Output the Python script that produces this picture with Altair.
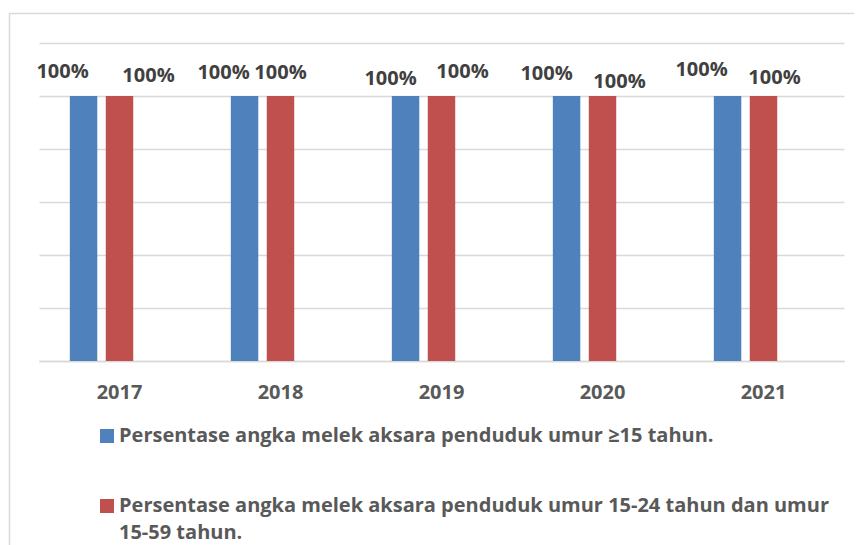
import altair as alt
import pandas as pd

# ---- data ----
years = ["2017", "2018", "2019", "2020", "2021"]
series = [
    "Persentase angka melek aksara penduduk umur ≥15 tahun.",
    "Persentase angka melek aksara penduduk umur 15-24 tahun dan umur 15-59 tahun.",
]
values_umur_15_plus = [1.00, 1.00, 1.00, 1.00, 1.00]
values_umur_15_24_15_59 = [1.00, 1.00, 1.00, 1.00, 1.00]
legend_second_lines = [
    "Persentase angka melek aksara penduduk umur 15-24 tahun dan umur",
    "15-59 tahun.",
]
y_tick_values = [0.0, 0.2, 0.4, 0.6, 0.8, 1.0, 1.2]
colors = ["#4F81BD", "#C0504D"]
# the original chart reserves a third (empty) bar slot in every group
slots = series + ["(kosong)"]

# manual data-label nudges (dx, dy) as placed in the original, per series/year
label_nudge_blue = [(-21, -18), (-21, -17), (-15, -11), (-20, -16), (-26, -20)]
label_nudge_red = [(29, -14), (0, -17), (21, -18), (17, -8), (11, -12)]

rows = []
for yr, v in zip(years, values_umur_15_plus):
    rows.append({"year": yr, "series": series[0], "value": v})
for yr, v in zip(years, values_umur_15_24_15_59):
    rows.append({"year": yr, "series": series[1], "value": v})
df = pd.DataFrame(rows)

FONT = "Open Sans"

x_enc = alt.X(
    "year:N",
    sort=years,
    scale=alt.Scale(paddingInner=0.383, paddingOuter=0.1915),
    axis=alt.Axis(
        title=None, labelAngle=0, ticks=False, domainColor="#D9D9D9", domainWidth=1.5,
        labelFont=FONT, labelFontSize=20, labelFontWeight="bold", labelColor="#595959",
        labelPadding=21,
    ),
)
xoff_enc = alt.XOffset(
    "series:N", scale=alt.Scale(domain=slots, paddingInner=0.236, paddingOuter=0)
)
y_enc = alt.Y(
    "value:Q",
    scale=alt.Scale(domain=[0, 1.2], nice=False, zero=True),
    axis=alt.Axis(
        title=None, values=y_tick_values, labels=False, ticks=False, domain=False,
        grid=True, gridColor="#D9D9D9", gridWidth=1.5,
    ),
)

# second legend entry wraps onto two lines, as in the original
label_expr = (
    "datum.value == '" + series[1] + "' ? ['"
    + legend_second_lines[0] + "', '" + legend_second_lines[1] + "'] : datum.label"
)

color_enc = alt.Color(
    "series:N",
    scale=alt.Scale(domain=series, range=colors),
    legend=alt.Legend(
        orient="none", legendX=58, legendY=383, title=None, direction="vertical",
        symbolType="square", symbolSize=196, symbolStrokeWidth=0, symbolOpacity=1,
        labelFont=FONT, labelFontSize=20, labelFontWeight="bold", labelColor="#595959",
        labelLimit=900, labelOffset=2, rowPadding=50, padding=0,
        labelBaseline="middle", labelExpr=label_expr,
    ),
)

base = alt.Chart(df)

bars = base.mark_bar().encode(x=x_enc, xOffset=xoff_enc, y=y_enc, color=color_enc)

label_layers = []
for s, nudges in zip(series, [label_nudge_blue, label_nudge_red]):
    for yr, (ddx, ddy) in zip(years, nudges):
        label_layers.append(
            base.transform_filter(
                (alt.datum.series == s) & (alt.datum.year == yr)
            ).mark_text(
                dx=ddx, dy=ddy, baseline="alphabetic", align="center",
                font=FONT, fontSize=20, fontWeight="bold", color="#404040",
            ).encode(
                x=x_enc, xOffset=xoff_enc, y=y_enc,
                text=alt.Text("value:Q", format=".0%"),
            )
        )

frame = alt.Chart(pd.DataFrame({"f": [0]})).mark_rect(
    fill="transparent", stroke="#D9D9D9", strokeWidth=1.5
).encode(
    x=alt.value(-29.5), x2=alt.value(1000), y=alt.value(-29.5), y2=alt.value(1000)
)

chart = alt.layer(frame, bars, *label_layers).properties(
    width=805,
    height=318,
    padding={"left": 31, "top": 35, "right": 10, "bottom": 184},
    autosize=alt.AutoSizeParams(type="none"),
).configure(
    style={"guide-label": {"lineHeight": 27}}
).configure_view(stroke=None)

chart.save("out.html", embed_options={"renderer": "svg", "actions": False})
